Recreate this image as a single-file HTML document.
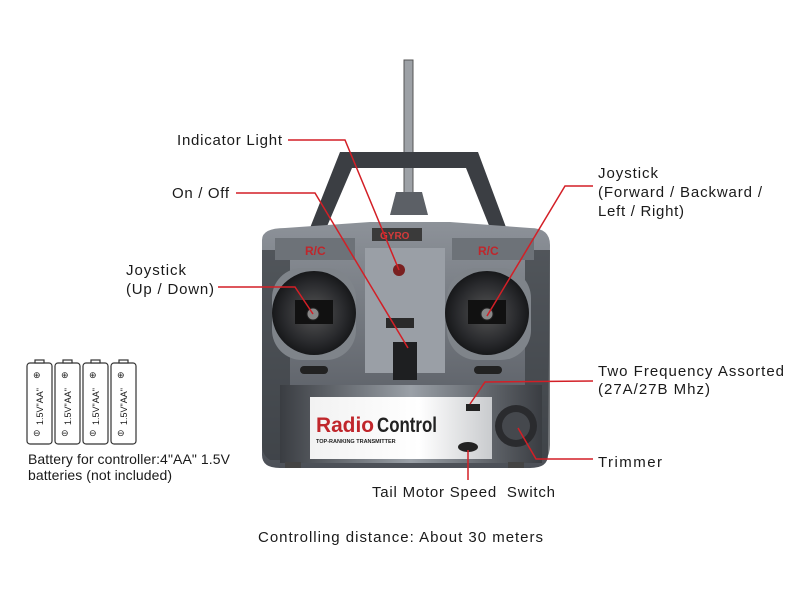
<!DOCTYPE html>
<html><head><meta charset="utf-8"><style>
body{margin:0;background:#fff;width:800px;height:600px;overflow:hidden}
svg{display:block}
text{font-family:"Liberation Sans",Arial,sans-serif;fill:#1a1a1a}
</style></head><body>
<svg width="800" height="600" viewBox="0 0 800 600">
<defs>
<linearGradient id="bg" x1="0" x2="0" y1="0" y2="1"><stop offset="0" stop-color="#8d9299"/><stop offset="1" stop-color="#4c5057"/></linearGradient>
<linearGradient id="side" x1="0" x2="1"><stop offset="0" stop-color="#3a3d42"/><stop offset=".5" stop-color="#9aa0a7"/><stop offset="1" stop-color="#3a3d42"/></linearGradient>
<linearGradient id="lab" x1="0" x2="1"><stop offset="0" stop-color="#f2f2f2"/><stop offset=".6" stop-color="#ffffff"/><stop offset="1" stop-color="#c9cbce"/></linearGradient>
<radialGradient id="gim"><stop offset="0" stop-color="#555"/><stop offset=".7" stop-color="#2a2b2e"/><stop offset="1" stop-color="#17181a"/></radialGradient>
</defs>
<rect x="404" y="60" width="9" height="140" fill="#9da1a6" stroke="#555" stroke-width="1"/>
<path d="M390 215 L396 192 L422 192 L428 215Z" fill="#5c6066"/>
<path d="M306 238 L340 152 L478 152 L510 238 L494 238 L466 168 L352 168 L322 238Z" fill="#3b3e43"/>
<path d="M262 240 Q262 228 285 228 L370 222 L450 222 L530 228 Q550 228 550 245 L548 455 Q548 468 530 468 L280 468 Q262 468 262 455Z" fill="url(#bg)"/>
<path d="M262 250 L290 250 L290 460 L270 460 Q262 455 262 445Z" fill="#3b3e43" opacity=".7"/>
<path d="M550 250 L525 250 L525 460 L545 460 Q550 455 550 445Z" fill="#3b3e43" opacity=".7"/>
<rect x="275" y="238" width="80" height="22" fill="#6d7278"/>
<rect x="452" y="238" width="82" height="22" fill="#6d7278"/>
<text x="305" y="255" font-size="12" font-weight="bold" style="fill:#c0262b">R/C</text>
<text x="478" y="255" font-size="12" font-weight="bold" style="fill:#c0262b">R/C</text>
<rect x="372" y="228" width="50" height="13" fill="#3a3a3a"/>
<text x="380" y="239" font-size="10" font-weight="bold" style="fill:#d43a3a">GYRO</text>
<rect x="365" y="248" width="80" height="125" fill="#9a9fa6"/>
<circle cx="399" cy="270" r="6" fill="#7a2020"/>
<rect x="386" y="318" width="28" height="10" fill="#2a2a2a"/>
<rect x="393" y="342" width="24" height="38" fill="#1e1f21"/>
<rect x="272" y="268" width="84" height="92" rx="30" fill="#7f848a"/>
<rect x="447" y="268" width="84" height="92" rx="30" fill="#7f848a"/>
<circle cx="314" cy="313" r="42" fill="url(#gim)"/>
<circle cx="487" cy="313" r="42" fill="url(#gim)"/>
<rect x="295" y="300" width="38" height="24" fill="#111"/>
<rect x="468" y="300" width="38" height="24" fill="#111"/>
<circle cx="313" cy="314" r="6" fill="#888" stroke="#222"/>
<circle cx="487" cy="314" r="6" fill="#888" stroke="#222"/>
<rect x="300" y="366" width="28" height="8" rx="4" fill="#222"/>
<rect x="474" y="366" width="28" height="8" rx="4" fill="#222"/>
<rect x="280" y="385" width="262" height="78" fill="url(#side)"/>
<rect x="310" y="397" width="182" height="62" fill="url(#lab)"/>
<text x="316" y="432" font-size="21" font-weight="bold" style="fill:#c0262b" textLength="58" lengthAdjust="spacingAndGlyphs">Radio</text>
<text x="377" y="432" font-size="21" font-weight="bold" style="fill:#222" textLength="60" lengthAdjust="spacingAndGlyphs">Control</text>
<text x="316" y="443" font-size="5.5" font-weight="bold" style="fill:#222">TOP-RANKING TRANSMITTER</text>
<rect x="466" y="404" width="14" height="7" fill="#222"/>
<ellipse cx="468" cy="447" rx="10" ry="5" fill="#222"/>
<circle cx="516" cy="426" r="21" fill="#2a2b2e"/>
<circle cx="516" cy="426" r="14" fill="#45484d"/>
<rect x="285" y="462" width="16" height="6" fill="#444"/>
<rect x="508" y="462" width="16" height="6" fill="#444"/>
<g stroke="#d31f26" stroke-width="1.5" fill="none">
<polyline points="288,140 345,140 399,270"/>
<polyline points="236,193 315,193 408,348"/>
<polyline points="218,287 295,287 313,314"/>
<polyline points="593,186 565,186 487,316"/>
<polyline points="593,381 485,382 470,404"/>
<polyline points="593,459 536,459 518,428"/>
<polyline points="468,480 468,450"/>
</g>
<g font-size="15" lengthAdjust="spacingAndGlyphs">
<text x="177" y="145" textLength="105">Indicator Light</text>
<text x="172" y="198" textLength="57">On / Off</text>
<text x="126" y="275" textLength="60">Joystick</text>
<text x="126" y="294" textLength="88">(Up / Down)</text>
<text x="598" y="178" textLength="60">Joystick</text>
<text x="598" y="197" textLength="164">(Forward / Backward /</text>
<text x="598" y="216" textLength="86">Left / Right)</text>
<text x="598" y="376" textLength="186">Two Frequency Assorted</text>
<text x="598" y="394" textLength="112">(27A/27B Mhz)</text>
<text x="598" y="467" textLength="64">Trimmer</text>
<text x="372" y="497" textLength="183">Tail Motor Speed &#160;Switch</text>
<text x="258" y="542" textLength="285">Controlling distance: About 30 meters</text>
<text x="28" y="464" font-size="14" textLength="202">Battery for controller:4"AA" 1.5V</text>
<text x="28" y="480" font-size="14" textLength="144">batteries (not included)</text>
</g>
<g stroke="#333" stroke-width="1.2" fill="#fff">
<rect x="27" y="363" width="25" height="81" rx="3"/><rect x="55" y="363" width="25" height="81" rx="3"/>
<rect x="83" y="363" width="25" height="81" rx="3"/><rect x="111" y="363" width="25" height="81" rx="3"/>
<rect x="35" y="360" width="9" height="3"/><rect x="63" y="360" width="9" height="3"/><rect x="91" y="360" width="9" height="3"/><rect x="119" y="360" width="9" height="3"/>
</g>
<g font-size="9">
<text x="33" y="378">⊕</text><text x="61" y="378">⊕</text><text x="89" y="378">⊕</text><text x="117" y="378">⊕</text>
<text x="33" y="436">⊖</text><text x="61" y="436">⊖</text><text x="89" y="436">⊖</text><text x="117" y="436">⊖</text>
<text transform="translate(43,425) rotate(-90)">1.5V"AA"</text>
<text transform="translate(71,425) rotate(-90)">1.5V"AA"</text>
<text transform="translate(99,425) rotate(-90)">1.5V"AA"</text>
<text transform="translate(127,425) rotate(-90)">1.5V"AA"</text>
</g>
</svg>
</body></html>
